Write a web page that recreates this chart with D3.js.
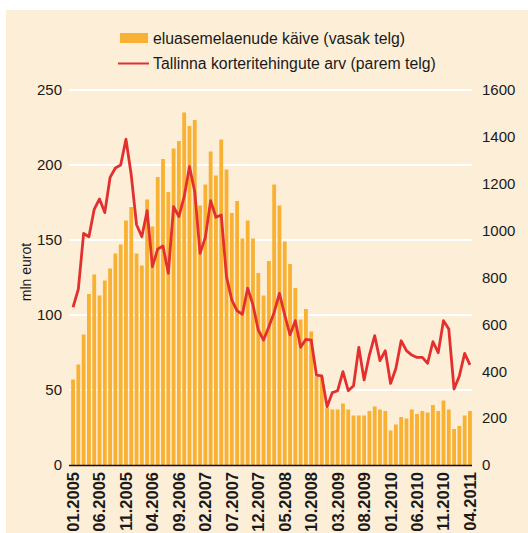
<!DOCTYPE html>
<html>
<head>
<meta charset="utf-8">
<script src="https://cdn.jsdelivr.net/npm/d3@7"></script>
<style>
  body { margin: 0; background: #fff; }
  text { font-family: "Liberation Sans", Arial, sans-serif; fill: #1a1a1a; }
</style>
</head>
<body>
<script>
// monthly categories 01.2005 .. 04.2011
var months = [];
for (var y = 2005; y <= 2011; y++) {
  for (var m = 1; m <= 12; m++) {
    if (y === 2011 && m > 4) break;
    months.push((m < 10 ? "0" : "") + m + "." + y);
  }
}

// eluasemelaenude käive, mln eurot (left axis)
var loans = [57, 67, 87, 114, 127, 113, 123, 131, 141, 147, 163, 172,
  141, 133, 177, 159, 192, 204, 182, 211, 216, 235, 226, 230,
  173, 187, 209, 193, 217, 197, 168, 176, 151, 163, 151, 128,
  113, 136, 187, 173, 149, 134, 118, 97, 104, 89, 59, 59,
  38, 37, 37, 41, 37, 33, 33, 33, 36, 39, 37, 36,
  23, 27, 32, 31, 37, 34, 36, 35, 40, 36, 43, 37,
  24, 26, 33, 36];

// Tallinna korteritehingute arv (right axis)
var deals = [673, 750, 988, 974, 1091, 1135, 1077, 1227, 1267, 1280, 1390, 1237,
  1025, 974, 1085, 846, 922, 934, 818, 1102, 1060, 1145, 1273, 1166,
  903, 971, 1128, 1057, 1067, 803, 704, 658, 643, 754, 683, 576,
  533, 590, 651, 732, 640, 555, 616, 502, 536, 533, 383, 380,
  249, 309, 317, 398, 317, 338, 502, 363, 469, 552, 445, 488,
  348, 412, 530, 488, 469, 459, 459, 434, 526, 479, 616, 580,
  324, 380, 476, 427];

var leftTicks = [0, 50, 100, 150, 200, 250];
var rightTicks = [0, 200, 400, 600, 800, 1000, 1200, 1400, 1600];
var xTickLabels = ["01.2005", "06.2005", "11.2005", "04.2006", "09.2006", "02.2007",
  "07.2007", "12.2007", "05.2008", "10.2008", "03.2009", "08.2009",
  "01.2010", "06.2010", "11.2010", "04.2011"];

var width = 528,
  height = 533;

var svg = d3
  .select("body")
  .append("svg")
  .attr("width", width)
  .attr("height", height);

svg.append("rect")
  .attr("x", 6).attr("y", 10)
  .attr("width", width - 6).attr("height", height - 10)
  .attr("fill", "#fdeed7");

var x = d3.scaleBand().domain(months).range([70.4, 472.6]).paddingInner(0.28).paddingOuter(0.14);
var yL = d3.scaleLinear().domain([0, 250]).range([465, 90]);
var yR = d3.scaleLinear().domain([0, 1600]).range([465, 90]);

// gridlines
svg.append("g")
  .selectAll("line")
  .data(leftTicks.slice(1))
  .join("line")
  .attr("x1", 69).attr("x2", 472)
  .attr("y1", d => yL(d)).attr("y2", d => yL(d))
  .attr("stroke", "#fff")
  .attr("stroke-width", 2);

// left axis labels
var axL = svg.append("g")
  .attr("transform", "translate(69,0)")
  .call(d3.axisLeft(yL).tickValues(leftTicks).tickSize(0).tickPadding(7));
axL.select(".domain").remove();
axL.selectAll("text").style("font-size", "15px").attr("fill", "#1a1a1a");

// right axis labels
var axR = svg.append("g")
  .attr("transform", "translate(475,0)")
  .call(d3.axisRight(yR).tickValues(rightTicks).tickFormat(d3.format("d")).tickSize(0).tickPadding(7));
axR.select(".domain").remove();
axR.selectAll("text").style("font-size", "15px").attr("fill", "#1a1a1a");

// bars
svg.append("g")
  .selectAll("rect")
  .data(loans)
  .join("rect")
  .attr("x", (d, i) => x(months[i]))
  .attr("width", x.bandwidth())
  .attr("y", d => yL(d))
  .attr("height", d => yL(0) - yL(d))
  .attr("fill", "#f8b133");

// line
var line = d3.line()
  .x((d, i) => x(months[i]) + x.bandwidth() / 2)
  .y(d => yR(d));

svg.append("path")
  .datum(deals)
  .attr("d", line)
  .attr("fill", "none")
  .attr("stroke", "#e3302f")
  .attr("stroke-width", 2.8)
  .attr("stroke-linejoin", "round");

// baseline
svg.append("line")
  .attr("x1", 69).attr("x2", 472)
  .attr("y1", 465.5).attr("y2", 465.5)
  .attr("stroke", "#111")
  .attr("stroke-width", 1.6);

// x labels
var axX = svg.append("g")
  .attr("transform", "translate(0,466)")
  .call(d3.axisBottom(x).tickValues(xTickLabels).tickSize(0).tickPadding(0));
axX.select(".domain").remove();
axX.selectAll("text")
  .attr("transform", "rotate(-90)")
  .attr("text-anchor", "end")
  .attr("x", -6)
  .attr("y", 0)
  .attr("dy", "0.36em")
  .style("font-size", "16.5px")
  .style("font-weight", "bold")
  .attr("fill", "#1a1a1a");

// y axis title
svg.append("text")
  .attr("transform", "translate(31,272) rotate(-90)")
  .attr("text-anchor", "middle")
  .style("font-size", "14px")
  .text("mln eurot");

// legend
var lg = svg.append("g");
lg.append("rect")
  .attr("x", 120).attr("y", 33)
  .attr("width", 28).attr("height", 10)
  .attr("fill", "#f8b133");
lg.append("text")
  .attr("x", 153).attr("y", 38)
  .attr("dy", "0.35em")
  .style("font-size", "15.8px")
  .text("eluasemelaenude käive (vasak telg)");
lg.append("line")
  .attr("x1", 118).attr("x2", 149)
  .attr("y1", 63.5).attr("y2", 63.5)
  .attr("stroke", "#e3302f")
  .attr("stroke-width", 2);
lg.append("text")
  .attr("x", 153).attr("y", 63)
  .attr("dy", "0.35em")
  .style("font-size", "15.8px")
  .text("Tallinna korteritehingute arv (parem telg)");
</script>
</body>
</html>
